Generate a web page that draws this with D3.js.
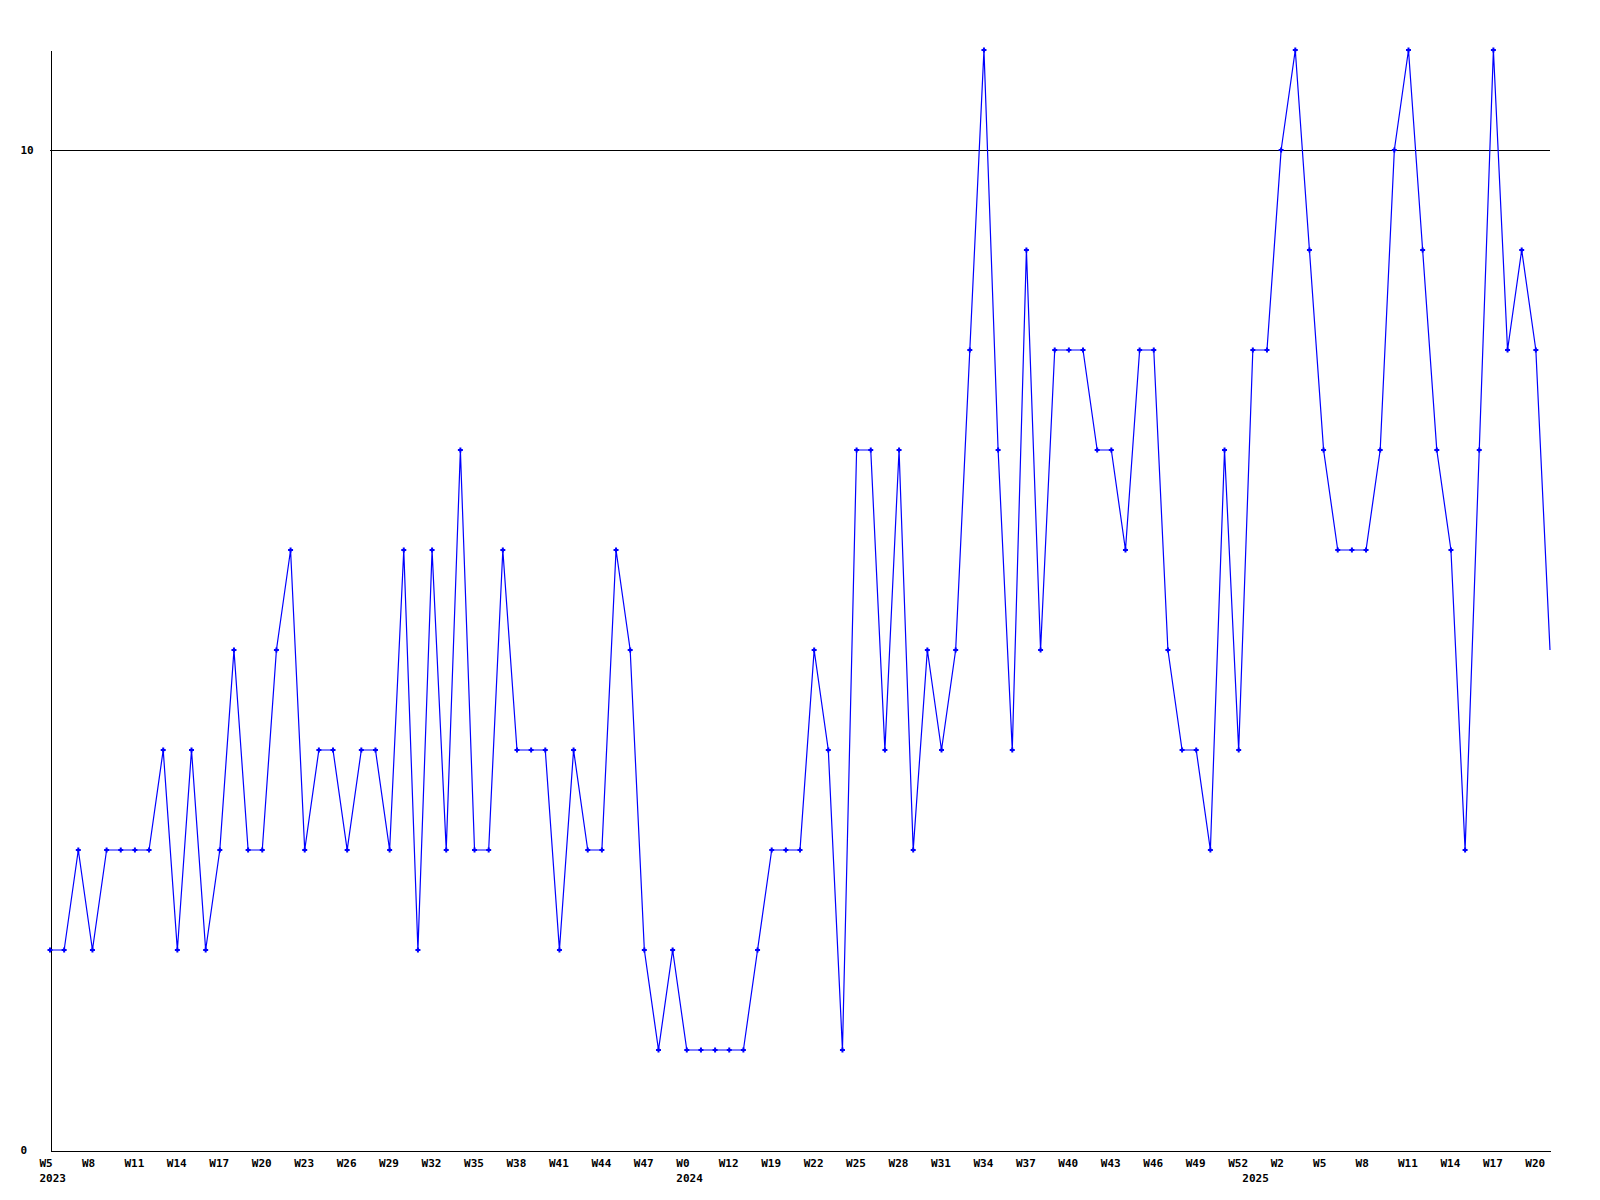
<!DOCTYPE html>
<html>
<head>
<meta charset="utf-8">
<script src="https://cdn.jsdelivr.net/npm/d3@7"></script>
<style>
  html, body { margin: 0; padding: 0; background: #ffffff; }
  svg { display: block; }
  text { font-family: "DejaVu Sans Mono", "Liberation Mono", monospace; font-weight: bold; font-size: 11px; fill: #000; }
</style>
</head>
<body>
<svg id="chart" width="1600" height="1200"></svg>
<script>
// ---- data ----
const values = [
  2, 2, 3, 2, 3, 3, 3, 3, 4, 2,
  4, 2, 3, 5, 3, 3, 5, 6, 3, 4,
  4, 3, 4, 4, 3, 6, 2, 6, 3, 7,
  3, 3, 6, 4, 4, 4, 2, 4, 3, 3,
  6, 5, 2, 1, 2, 1, 1, 1, 1, 1,
  2, 3, 3, 3, 5, 4, 1, 7, 7, 4,
  7, 3, 5, 4, 5, 8, 11, 7, 4, 9,
  5, 8, 8, 8, 7, 7, 6, 8, 8, 5,
  4, 4, 3, 7, 4, 8, 8, 10, 11, 9,
  7, 6, 6, 6, 7, 10, 11, 9, 7, 6,
  3, 7, 11, 8, 9, 8, 5
];
const weekLabels = [
  "W5", "W8", "W11", "W14", "W17", "W20", "W23", "W26", "W29", "W32", "W35", "W38",
  "W41", "W44", "W47", "W0", "W12", "W19", "W22", "W25", "W28", "W31", "W34", "W37",
  "W40", "W43", "W46", "W49", "W52", "W2", "W5", "W8", "W11", "W14", "W17", "W20"
];
const weekLabelIndex = weekLabels.map((_, i) => i * 3);
const yearLabels = ["2023", "2024", "2025"];
const yearLabelIndex = [0, 45, 85];
const yTickValues = [0, 10];
const yMax = 11;

// ---- chart ----
const svg = d3.select("#chart");
const mLeft = 50, mRight = 1550, mTop = 50, mBottom = 1150;

const x = d3.scaleLinear().domain([0, values.length - 1]).range([mLeft, mRight]);
const y = d3.scaleLinear().domain([0, yMax]).range([mBottom, mTop]);

function styleText(sel) {
  sel.style("font-family", "'DejaVu Sans Mono', monospace")
    .style("font-weight", "bold")
    .style("font-size", "11px")
    .attr("fill", "#000");
}

// gridline at 10
svg.append("g")
  .selectAll("line")
  .data(yTickValues.filter(v => v > 0))
  .join("line")
  .attr("x1", mLeft).attr("x2", mRight)
  .attr("y1", d => y(d) + 0.5).attr("y2", d => y(d) + 0.5)
  .attr("stroke", "#000").attr("stroke-width", 1)
  .attr("shape-rendering", "crispEdges");

// left axis
const yAxis = d3.axisLeft(y).tickValues(yTickValues).tickSize(0).tickSizeOuter(0).tickFormat(d3.format("d"));
const gy = svg.append("g").attr("transform", `translate(${mLeft + 0.5},0)`).call(yAxis);
gy.select(".domain").attr("stroke", "#000").attr("shape-rendering", "crispEdges");
gy.selectAll(".tick text")
  .attr("text-anchor", "start")
  .attr("x", 20 - mLeft)
  .attr("dy", "0.35em")
  .call(styleText);

// bottom axis (week labels)
const xAxis = d3.axisBottom(x).tickValues(weekLabelIndex).tickSize(0).tickSizeOuter(0)
  .tickFormat((d, i) => weekLabels[i]);
const gx = svg.append("g").attr("transform", `translate(0,${mBottom + 0.5})`).call(xAxis);
gx.select(".domain").attr("stroke", "#000").attr("shape-rendering", "crispEdges");
gx.selectAll(".tick text")
  .attr("text-anchor", "start")
  .attr("x", -11)
  .attr("y", 16)
  .attr("dy", 0)
  .call(styleText);

// year labels
const xYear = d3.axisBottom(x).tickValues(yearLabelIndex).tickSize(0)
  .tickFormat((d, i) => yearLabels[i]);
const gyear = svg.append("g").attr("transform", `translate(0,${mBottom + 0.5})`).call(xYear);
gyear.select(".domain").remove();
gyear.selectAll(".tick text")
  .attr("text-anchor", "start")
  .attr("x", -11)
  .attr("y", 31)
  .attr("dy", 0)
  .call(styleText);

// line
const line = d3.line().x((d, i) => x(i)).y(d => y(d));
svg.append("path")
  .datum(values)
  .attr("d", line)
  .attr("fill", "none")
  .attr("stroke", "#0000ff")
  .attr("stroke-width", 1.2);

// markers (all but the last point)
svg.append("g")
  .selectAll("path")
  .data(values.slice(0, -1))
  .join("path")
  .attr("transform", (d, i) => `translate(${x(i)},${y(d)})`)
  .attr("d", "M-2.5,-1h5v2h-5zM-1,-2.5h2v5h-2z")
  .attr("fill", "#0000ff");
</script>
</body>
</html>
